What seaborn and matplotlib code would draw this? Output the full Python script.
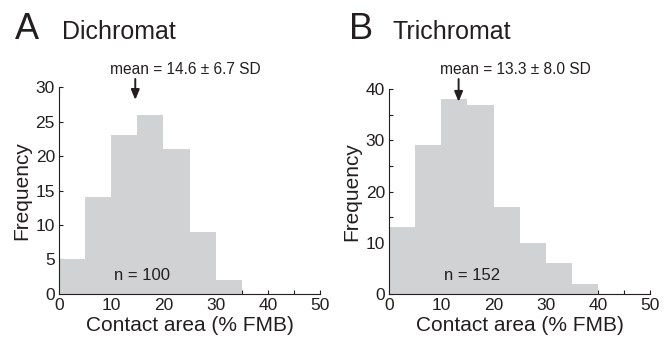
import numpy as np
import pandas as pd
import seaborn as sns
import matplotlib.pyplot as plt

# bin edges shared by both panels (% FMB)
bin_edges = [0, 5, 10, 15, 20, 25, 30, 35, 40, 45, 50]
bin_centers = [2.5, 7.5, 12.5, 17.5, 22.5, 27.5, 32.5, 37.5, 42.5, 47.5]
counts_di = [5, 14, 23, 26, 21, 9, 2, 0, 0, 0]
counts_tri = [13, 29, 38, 37, 17, 10, 6, 2, 0, 0]
mean_di, sd_di, n_di = 14.6, 6.7, 100
mean_tri, sd_tri, n_tri = 13.3, 8.0, 152

sns.set_style("ticks")
plt.rcParams['font.family'] = ['Liberation Sans', 'DejaVu Sans']
ink = "#231f20"
bar_col = "#d1d2d4"

fig = plt.figure(figsize=(6.71, 3.43), dpi=100)
ax1 = fig.add_axes([0.088, 0.143, 0.389, 0.603])
ax2 = fig.add_axes([0.580, 0.143, 0.389, 0.597])

panels = [
    (ax1, counts_di, mean_di, sd_di, n_di, 30, 5, 1.063),
    (ax2, counts_tri, mean_tri, sd_tri, n_tri, 40, 10, 1.073),
]

for ax, counts, m, sd, n, ymax, ystep, tfac in panels:
    df = pd.DataFrame({"area": bin_centers, "count": counts})
    sns.histplot(data=df, x="area", weights="count", bins=bin_edges,
                 color=bar_col, alpha=1, edgecolor="none", linewidth=0, ax=ax)
    ax.set_xlim(0, 50)
    ax.set_ylim(0, ymax)
    ax.set_xticks(np.arange(0, 51, 10))
    ax.set_xticks(np.arange(0, 51, 5), minor=True)
    ax.set_yticks(np.arange(0, ymax + 1, ystep))
    ax.set_yticks(np.arange(0, ymax + 1, 5), minor=True)
    ax.tick_params(which="both", direction="in", length=3, width=0.8,
                   colors=ink, labelsize=12.5, pad=3)
    for s in ["left", "bottom"]:
        ax.spines[s].set_color(ink)
        ax.spines[s].set_linewidth(0.8)
    sns.despine(ax=ax)
    ax.set_xlabel("Contact area (% FMB)", fontsize=15, color=ink, labelpad=2)
    ax.set_ylabel("Frequency", fontsize=15, color=ink, labelpad=3)

    ax.annotate("", xy=(m, ymax * 0.925), xytext=(m, ymax * (tfac - 0.01)),
                arrowprops=dict(arrowstyle="-|>,head_length=0.6,head_width=0.25",
                                color=ink, lw=1.4),
                annotation_clip=False)
    ax.text(24.2, ymax * tfac, f"mean = {m} \u00b1 {sd} SD", ha="center",
            va="baseline", fontsize=11.2, color=ink)
    ax.text(15.8, ymax * 0.09, f"n = {n}", ha="center", va="center",
            fontsize=12, color=ink)

fig.text(0.022, 0.885, "A", fontsize=26, color=ink, va="baseline")
fig.text(0.092, 0.885, "Dichromat", fontsize=18, color=ink, va="baseline")
fig.text(0.520, 0.885, "B", fontsize=26, color=ink, va="baseline")
fig.text(0.585, 0.885, "Trichromat", fontsize=18, color=ink, va="baseline")

fig.savefig("out.png", dpi=100)
